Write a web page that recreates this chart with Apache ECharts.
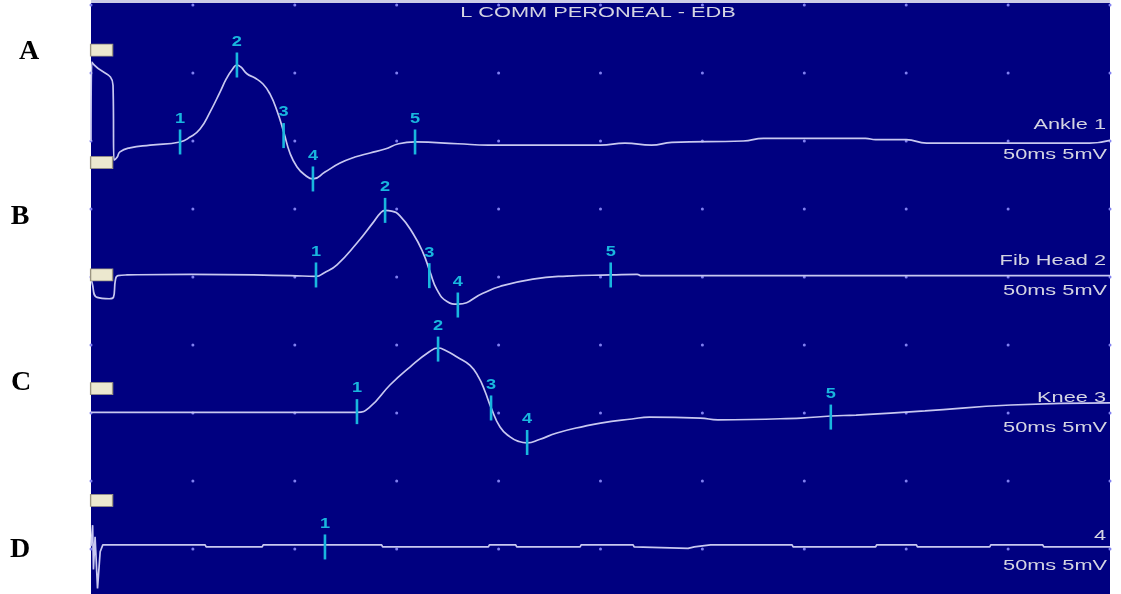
<!DOCTYPE html>
<html>
<head>
<meta charset="utf-8">
<script src="https://cdn.jsdelivr.net/npm/echarts@6/dist/echarts.min.js"></script>
<style>
  html, body { margin: 0; padding: 0; background: #fff; }
  #main { width: 1121px; height: 594px; }
</style>
</head>
<body>
<div id="main"></div>
<script>
// time in ms (50 ms / div), amplitude in mV relative to the trace baseline (5 mV / div)
var traceNames = ['A', 'B', 'C', 'D'];
var traceLabels = ['Ankle 1', 'Fib Head 2', 'Knee 3', '4'];
var baselines = [30, 20, 10, 0];

var traceA = [[0, 0.0], [0.4, 5.8], [1.5, 5.6], [10.8, 4.1], [11.3, -1.4], [12.8, -1.2], [14.2, -0.8],
  [19.1, -0.5], [29, -0.3], [43.7, -0.07], [48.6, 0.29], [53.5, 0.88], [58.4, 2.13], [63.3, 3.6],
  [66.5, 4.6], [69.5, 5.3], [71.6, 5.59], [73.5, 5.45], [76.5, 4.95], [80.5, 4.63], [84.4, 4.19],
  [87.8, 3.46], [91.3, 2.21], [94.7, 0.59], [97.6, -0.88], [101.1, -1.91], [105, -2.5], [108.9, -2.79],
  [114.8, -2.28], [122.2, -1.62], [129.5, -1.18], [136.9, -0.88], [144.3, -0.59], [151, -0.2],
  [159, -0.07], [180, -0.2], [195, -0.3], [225, -0.3], [250, -0.3], [262, -0.15], [275, -0.3],
  [285, -0.1], [320, 0.0], [330, 0.2], [380, 0.2], [385, 0.1], [400, 0.1], [410, -0.15], [490, -0.15],
  [500, 0.05]];

var traceB = [[0, 0.0], [0.5, -0.4], [3, -1.5], [9, -1.6], [11, -1.5], [12, -0.2], [13.2, 0.1],
  [17.7, 0.15], [49, 0.2], [98, 0.1], [110.4, 0.05], [114.3, 0.3], [120.7, 0.9], [130.5, 2.5],
  [138.4, 4.0], [142, 4.7], [144.3, 4.9], [147.5, 4.85], [151.6, 4.5], [158, 3.2], [162.9, 1.8],
  [166.3, 0.4], [169.8, -0.95], [174.7, -1.8], [180, -2.0], [192.3, -1.2], [200.6, -0.7],
  [216.8, -0.15], [233.5, 0.07], [255, 0.15], [268, 0.2], [270, 0.1], [500, 0.1]];

var traceC = [[0, 0.05], [130.5, 0.05], [136.9, 0.45], [146.7, 2.06], [156.5, 3.38], [166, 4.5],
  [170.3, 4.78], [174, 4.6], [179.6, 4.12], [186, 3.5], [190.3, 2.6], [193.3, 1.6], [196.3, 0.4],
  [200.7, -1.03], [205.6, -1.76], [210, -2.1], [214, -2.2], [220, -1.95], [228.6, -1.47],
  [242.4, -0.96], [250, -0.74], [265.4, -0.44], [274, -0.3], [299, -0.37], [307.6, -0.5],
  [348.3, -0.37], [363, -0.22], [375.4, -0.15], [409.2, 0.15], [451.4, 0.59], [500, 0.74]];

var traceD = [[0, 0.2], [0.8, 1.75], [1.2, -1.5], [2.0, 0.9], [3.2, -2.9], [4.5, -0.2], [5.8, 0.3],
  [56, 0.3], [56.5, 0.15], [84, 0.15], [84.5, 0.3], [142.6, 0.3], [143.1, 0.15], [195, 0.15],
  [195.5, 0.3], [208.4, 0.3], [208.9, 0.15], [240, 0.15], [240.5, 0.3], [266, 0.3], [266.5, 0.15],
  [293, 0.05], [296, 0.15], [304, 0.3], [344, 0.3], [344.5, 0.15], [385, 0.15], [385.5, 0.3],
  [405, 0.3], [405.5, 0.15], [441, 0.15], [441.5, 0.3], [467, 0.3], [467.5, 0.15], [500, 0.15]];

// cursor markers 1..5 per trace
var markersA = [[43.7, -0.07], [71.6, 5.59], [94.5, 0.4], [108.9, -2.79], [159, -0.07]];
var markersB = [[110.4, 0.15], [144.3, 4.9], [166, 0.1], [180, -2.06], [255, 0.15]];
var markersC = [[130.5, 0.1], [170.3, 4.7], [196.3, 0.37], [214, -2.17], [363, -0.3]];
var markersD = [[114.8, 0.15]];

// gain / baseline tags on the left edge (absolute mV)
var tagTime = 5.2;
var tagLevels = [36.69, 28.42, 20.15, 11.8, 3.57];

// screen grid
var gridTimes = [0, 50, 100, 150, 200, 250, 300, 350, 400, 450, 500];
var gridLevels = [0, 5, 10, 15, 20, 25, 30, 35, 40];

var traces = [traceA, traceB, traceC, traceD];
var markers = [markersA, markersB, markersC, markersD];

var PANEL = '#000080';
var TRACE = '#c8c8f0';
var CYAN = '#19b6de';
var TEXT = '#d4d4e2';
var FONT = '15px "Liberation Sans", Arial, sans-serif';

var chart = echarts.init(document.getElementById('main'));

var dots = [];
gridTimes.forEach(function (t) {
  gridLevels.forEach(function (v) { dots.push([t, v]); });
});

var series = [{
  type: 'scatter',
  data: dots,
  symbol: 'circle',
  symbolSize: 3,
  itemStyle: { color: '#8080f0', opacity: 1 },
  silent: true,
  z: 1
}];

traces.forEach(function (tr, i) {
  series.push({
    type: 'line',
    data: tr.map(function (p) { return [p[0], p[1] + baselines[i]]; }),
    showSymbol: false,
    smooth: i === 3 ? false : 0.5,
    lineStyle: { color: TRACE, width: 1.7 },
    silent: true,
    z: 2
  });
});

var markerData = [];
markers.forEach(function (list, i) {
  list.forEach(function (p, k) {
    markerData.push([p[0], p[1] + baselines[i], k + 1]);
  });
});

series.push({
  type: 'custom',
  data: markerData,
  silent: true,
  z: 3,
  renderItem: function (params, api) {
    var p = api.coord([api.value(0), api.value(1)]);
    return {
      type: 'group',
      children: [{
        type: 'rect',
        shape: { x: p[0] - 1.3, y: p[1] - 12.5, width: 2.6, height: 25 },
        style: { fill: CYAN }
      }, {
        type: 'text',
        x: p[0],
        y: p[1] - 16,
        scaleX: 1.3,
        style: {
          text: String(api.value(2)),
          fill: CYAN,
          font: 'bold 14px "Liberation Sans", Arial, sans-serif',
          align: 'center',
          verticalAlign: 'bottom'
        }
      }]
    };
  }
});

series.push({
  type: 'scatter',
  data: tagLevels.map(function (v) { return [tagTime, v]; }),
  symbol: 'rect',
  symbolSize: [22, 12],
  itemStyle: { color: '#ece8cf', opacity: 1, borderColor: '#9a9480', borderWidth: 1 },
  silent: true,
  z: 4
});

var graphics = [{
  type: 'rect', left: 91, top: 0, z: 10,
  shape: { width: 1019, height: 3 },
  style: { fill: '#ffffff', opacity: 0.8 }
}, {
  type: 'text', x: 598, y: 13, scaleX: 1.45,
  style: { text: 'L COMM PERONEAL - EDB', fill: TEXT, font: FONT, align: 'center', verticalAlign: 'middle' }
}];

var letterPos = [[29, 52], [20, 217], [21, 383], [20, 550]];
traceNames.forEach(function (n, i) {
  graphics.push({
    type: 'text', x: letterPos[i][0], y: letterPos[i][1],
    style: { text: n, fill: '#000', font: 'bold 28px "Liberation Serif", "Times New Roman", serif', align: 'center', verticalAlign: 'middle' }
  });
});

var rightY = [125, 261, 398, 536];
traceLabels.forEach(function (lab, i) {
  graphics.push({
    type: 'text', x: 1106, y: rightY[i], scaleX: 1.45,
    style: { text: lab, fill: TEXT, font: FONT, align: 'right', verticalAlign: 'middle' }
  });
  graphics.push({
    type: 'text', x: 1107, y: rightY[i] + 30, scaleX: 1.45,
    style: { text: '50ms 5mV', fill: TEXT, font: FONT, align: 'right', verticalAlign: 'middle' }
  });
});

chart.setOption({
  animation: false,
  grid: {
    left: 91, right: 11, top: 0, bottom: 0,
    show: true, backgroundColor: PANEL, borderWidth: 0
  },
  xAxis: { type: 'value', min: 0, max: 500, show: false },
  yAxis: { type: 'value', min: -3.31, max: 40.37, show: false },
  graphic: graphics,
  series: series
});
</script>
</body>
</html>
